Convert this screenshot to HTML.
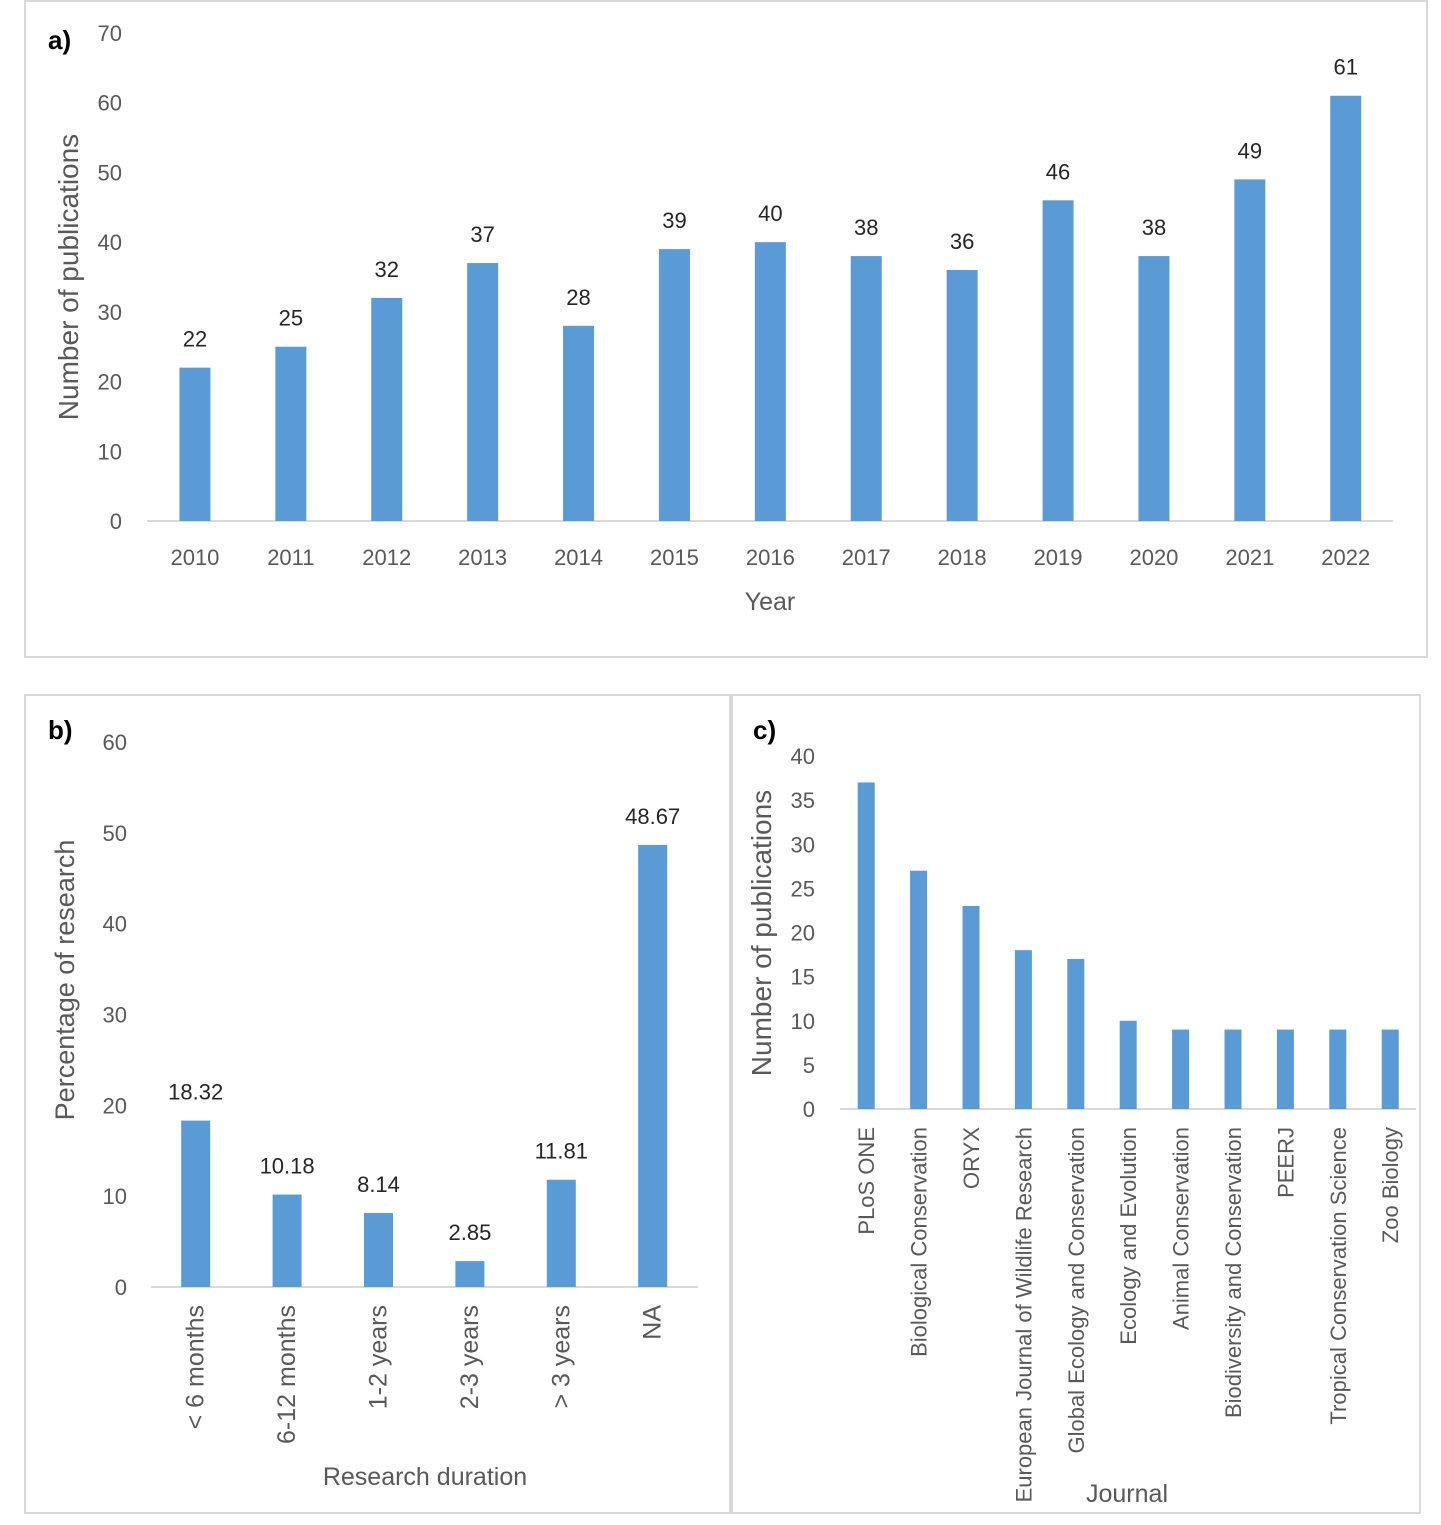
<!DOCTYPE html>
<html><head><meta charset="utf-8"><style>
html,body{margin:0;padding:0;background:#fff;}
svg{display:block;font-family:"Liberation Sans",sans-serif;}
</style></head><body>
<svg id="s" width="1441" height="1525" viewBox="0 0 1441 1525" xmlns="http://www.w3.org/2000/svg">
<rect x="25" y="1" width="1402" height="656" fill="none" stroke="#d9d9d9" stroke-width="2"/>
<rect x="25" y="695" width="705" height="818" fill="none" stroke="#d9d9d9" stroke-width="2"/>
<rect x="732" y="695" width="688" height="818" fill="none" stroke="#d9d9d9" stroke-width="2"/>
<text x="48" y="49" font-size="26" font-weight="bold" fill="#000">a)</text>
<text x="48" y="739" font-size="26" font-weight="bold" fill="#000">b)</text>
<text x="753" y="739" font-size="26" font-weight="bold" fill="#000">c)</text>
<g id="ga"></g><g id="gb"></g><g id="gc"></g>
</svg>
<script>
const yearsA=["2010","2011","2012","2013","2014","2015","2016","2017","2018","2019","2020","2021","2022"];
const valuesA=[22,25,32,37,28,39,40,38,36,46,38,49,61];
const ticksA=[0,10,20,30,40,50,60,70];
const catsB=["< 6 months","6-12 months","1-2 years","2-3 years","> 3 years","NA"];
const valuesB=[18.32,10.18,8.14,2.85,11.81,48.67];
const labelsB=["18.32","10.18","8.14","2.85","11.81","48.67"];
const ticksB=[0,10,20,30,40,50,60];
const catsC=["PLoS ONE","Biological Conservation","ORYX","European Journal of Wildlife Research","Global Ecology and Conservation","Ecology and Evolution","Animal Conservation","Biodiversity and Conservation","PEERJ","Tropical Conservation Science","Zoo Biology"];
const valuesC=[37,27,23,18,17,10,9,9,9,9,9];
const ticksC=[0,5,10,15,20,25,30,35,40];
const NS="http://www.w3.org/2000/svg";
function mk(p,t,a,txt){const e=document.createElementNS(NS,t);for(const k in a)e.setAttribute(k,a[k]);if(txt!==undefined)e.textContent=txt;p.appendChild(e);return e;}
function chart(g,o){
  const y=v=>o.y0-(v-o.ymin)/(o.ymax-o.ymin)*(o.y0-o.y1);
  const x=i=>o.x0+(i+0.5)*o.step;
  o.ticks.forEach(t=>{const e=mk(g,'text',{x:o.tickX,y:y(t)+8,'font-size':o.fs,'text-anchor':'end',fill:'#595959'},String(t));
    
    });
  const ax=mk(g,'line',{x1:o.axL,x2:o.axR,y1:o.y0,y2:o.y0,stroke:'#d9d9d9','stroke-width':2});
  
  
  o.vals.forEach((v,i)=>{
    const r=mk(g,'rect',{x:x(i)-o.bw/2,y:y(v),width:o.bw,height:o.y0-y(v),fill:'#5b9bd5'});
    
    
    if(o.labels){const l=mk(g,'text',{x:x(i),y:y(v)-21,'font-size':o.fs,'text-anchor':'middle',fill:'#262626'},o.labels[i]);
      
      }
    let c;
    if(o.rot){c=mk(g,'text',{transform:`translate(${x(i)+8},${o.catY}) rotate(-90)`,'font-size':o.cfs,'text-anchor':'end',fill:'#595959'},o.cats[i]);}
    else{c=mk(g,'text',{x:x(i),y:o.catY,'font-size':o.fs,'text-anchor':'middle',fill:'#595959'},o.cats[i]);}
    
    
  });
  const xt=mk(g,'text',{x:o.xtX,y:o.xtY,'font-size':25,'text-anchor':'middle',fill:'#595959'},o.xt);
  
  
  const yt=mk(g,'text',{transform:`translate(${o.ytX},${o.ytY}) rotate(-90)`,'font-size':o.ytfs,'text-anchor':'middle',fill:'#595959'},o.yt);
  
  
}
chart(document.getElementById('ga'),{ymin:0,ymax:70,y0:521,y1:33,x0:147,step:95.9,bw:31,vals:valuesA,labels:valuesA.map(String),cats:yearsA,ticks:ticksA,tickX:122,fs:22,axL:147,axR:1393,catY:565,xt:"Year",xtX:770,xtY:610,yt:"Number of publications",ytX:78,ytY:277,ytfs:28});
chart(document.getElementById('gb'),{ymin:0,ymax:60,y0:1287,y1:742,x0:150,step:91.4,bw:29,vals:valuesB,labels:labelsB,cats:catsB,ticks:ticksB,tickX:127,fs:22,cfs:25,rot:true,axL:151,axR:698,catY:1305,xt:"Research duration",xtX:425,xtY:1485,yt:"Percentage of research",ytX:74,ytY:980,ytfs:27});
chart(document.getElementById('gc'),{ymin:0,ymax:40,y0:1109,y1:756,x0:840,step:52.4,bw:17,vals:valuesC,cats:catsC,ticks:ticksC,tickX:815,fs:22,cfs:22,rot:true,axL:840,axR:1416,catY:1127,xt:"Journal",xtX:1127,xtY:1502,yt:"Number of publications",ytX:771,ytY:933,ytfs:28});
</script>
</body></html>
